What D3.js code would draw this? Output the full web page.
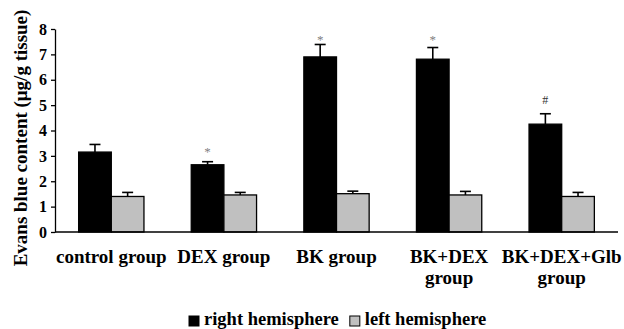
<!DOCTYPE html>
<html><head><meta charset="utf-8">
<script src="https://cdn.jsdelivr.net/npm/d3@7"></script>
<style>body{margin:0;background:#fff}svg{display:block}text{font-family:"Liberation Serif","Times New Roman",serif;font-weight:bold}</style>
</head><body><svg id="c" width="624" height="329" font-family="Liberation Serif, serif"></svg>
<script>
const categories = [["control group"],["DEX group"],["BK group"],["BK+DEX","group"],["BK+DEX+Glb","group"]];
const rightValues = [3.15, 2.65, 6.90, 6.81, 4.25];
const rightErrors = [0.30, 0.12, 0.49, 0.46, 0.41];
const leftValues = [1.40, 1.46, 1.51, 1.46, 1.40];
const leftErrors = [0.16, 0.10, 0.10, 0.14, 0.16];
const marks = ["", "*", "*", "*", "#"];
const markPos = [0, 3.36, 7.76, 7.76, 5.2];
const yTicks = [0,1,2,3,4,5,6,7,8];
const seriesNames = ["right hemisphere", "left hemisphere"];
const colors = ["#000000", "#c0c0c0"];

const svg = d3.select("#c");
const m = {l:55, r:6, t:29, b:97};
const W = 624, H = 329;
const x = d3.scaleBand().domain(d3.range(categories.length)).range([m.l, W - m.r]).padding(0);
const y = d3.scaleLinear().domain([0, 8]).range([H - m.b, m.t]);
const bw = x.bandwidth() * 0.29;

const series = [
  {vals: rightValues, errs: rightErrors, color: colors[0]},
  {vals: leftValues, errs: leftErrors, color: colors[1]}
];

series.forEach((s, si) => {
  const g = svg.append("g");
  s.vals.forEach((v, i) => {
    const cx = x(i) + x.bandwidth()/2;
    const x0 = si === 0 ? cx - bw : cx;
    g.append("rect").attr("x", x0).attr("y", y(v)).attr("width", bw).attr("height", y(0) - y(v))
      .attr("fill", s.color).attr("stroke", "#000").attr("stroke-width", 1.3);
    const ex = x0 + bw/2;
    g.append("line").attr("x1", ex).attr("x2", ex).attr("y1", y(v)).attr("y2", y(v + s.errs[i]))
      .attr("stroke", "#000").attr("stroke-width", 1.6);
    g.append("line").attr("x1", ex - 5.5).attr("x2", ex + 5.5).attr("y1", y(v + s.errs[i])).attr("y2", y(v + s.errs[i]))
      .attr("stroke", "#000").attr("stroke-width", 1.6);
  });
});

// significance marks
marks.forEach((mk, i) => {
  if (!mk) return;
  const cx = x(i) + x.bandwidth()/2 - bw/2;
  svg.append("text").attr("x", cx).attr("y", y(markPos[i])).attr("text-anchor", "middle")
    .attr("dy", mk === "*" ? "0.7em" : "0.35em")
    .attr("font-size", mk === "*" ? 13 : 12).attr("fill", mk === "*" ? "#808080" : "#333")
    .style("font-weight", "normal").text(mk);
});

// y axis
const ya = svg.append("g").attr("transform", `translate(${m.l},0)`)
  .call(d3.axisLeft(y).tickValues(yTicks).tickSize(4).tickSizeOuter(0).tickPadding(4));
ya.attr("font-family", null);
ya.select(".domain").attr("stroke", "#000").attr("stroke-width", 1.3);
ya.selectAll(".tick line").attr("stroke", "#000").attr("stroke-width", 1.3);
ya.selectAll(".tick text").attr("font-size", 16).attr("fill", "#000")
  .style("font-family", '"Liberation Serif",serif').style("font-weight", "bold");

// x axis line
svg.append("line").attr("x1", m.l).attr("x2", W - m.r).attr("y1", y(0)).attr("y2", y(0))
  .attr("stroke", "#000").attr("stroke-width", 1.3);

// x labels
categories.forEach((lines, i) => {
  const cx = x(i) + x.bandwidth()/2;
  const t = svg.append("text").attr("x", cx).attr("y", 263)
    .attr("text-anchor", "middle").attr("font-size", 19).attr("fill", "#000");
  lines.forEach((ln, k) => t.append("tspan").attr("x", cx).attr("dy", k === 0 ? 0 : 21).text(ln));
});

// y title
svg.append("text").attr("transform", `translate(27,138) rotate(-90)`)
  .attr("text-anchor", "middle").attr("font-size", 19).attr("fill", "#000")
  .text("Evans blue content (\u03bcg/g tissue)");

// legend
const lg = svg.append("g").attr("transform", "translate(189,325)");
let lx = 0;
seriesNames.forEach((n, i) => {
  lg.append("rect").attr("x", lx).attr("y", -9).attr("width", 10).attr("height", 10)
    .attr("fill", colors[i]).attr("stroke", "#000").attr("stroke-width", 1);
  const t = lg.append("text").attr("x", lx + 15).attr("y", 0).attr("font-size", 18.5).attr("fill", "#000").text(n);
  lx += 15 + t.node().getComputedTextLength() + 11;
});
</script></body></html>
